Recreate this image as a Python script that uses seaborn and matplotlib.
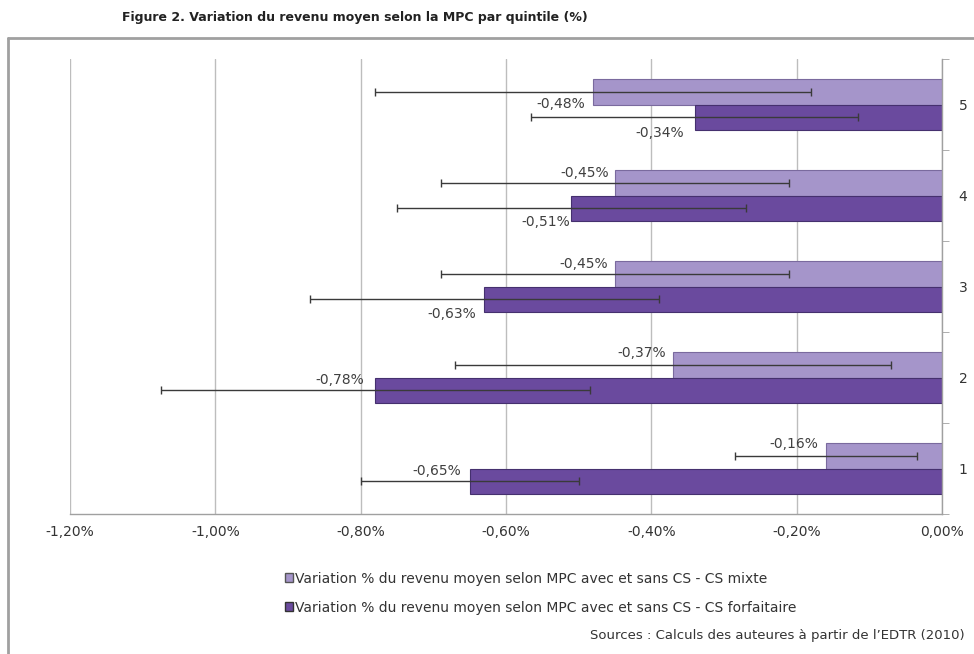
import pandas as pd
import seaborn as sns
import matplotlib.pyplot as plt
import matplotlib.patches as mpatches
from matplotlib.lines import Line2D
from matplotlib.ticker import FuncFormatter

# Values (quintiles listed top to bottom)
quintiles = ['5', '4', '3', '2', '1']
mixte = [-0.48, -0.45, -0.45, -0.37, -0.16]
forfaitaire = [-0.34, -0.51, -0.63, -0.78, -0.65]
err_mixte = [0.30, 0.24, 0.24, 0.30, 0.125]
err_forfaitaire = [0.225, 0.24, 0.24, 0.295, 0.15]

lab_mixte = 'Variation % du revenu moyen selon MPC avec et sans CS - CS mixte'
lab_forf = 'Variation % du revenu moyen selon MPC avec et sans CS - CS forfaitaire'
x_ticks = [-1.2, -1.0, -0.8, -0.6, -0.4, -0.2, 0.0]

df = pd.DataFrame({
    'quintile': quintiles * 2,
    'serie': [lab_mixte] * 5 + [lab_forf] * 5,
    'valeur': mixte + forfaitaire,
})

# label offsets in pixels (dx, dy) from bar end, style only
off_mixte = [(-32, -12), (-30, 10), (-31, 10), (-31, 12), (-32, 12)]
off_forf = [(-35, -16), (-26, -14), (-32, -15), (-35, 10), (-33, 10)]

sns.set_style('white')
plt.rcParams['font.family'] = ['DejaVu Sans']

col_mixte = '#A595CA'
col_forf = '#6A4A9E'

fig = plt.figure(figsize=(9.74, 6.54), dpi=100)
ax = fig.add_axes([70 / 974, 1 - 514 / 654, (942 - 70) / 974, (514 - 59) / 654])

sns.barplot(data=df, x='valeur', y='quintile', hue='serie', order=quintiles,
            hue_order=[lab_mixte, lab_forf], palette=[col_mixte, col_forf],
            orient='h', width=0.57, errorbar=None, legend=False, ax=ax,
            saturation=1, linewidth=0.8)

edge_cols = ['#7A6A9E', '#45306E']
for cont, ec, errs, offs in zip(ax.containers, edge_cols,
                                [err_mixte, err_forfaitaire],
                                [off_mixte, off_forf]):
    ys, xs = [], []
    for bar, off in zip(cont, offs):
        bar.set_edgecolor(ec)
        y = bar.get_y() + bar.get_height() / 2
        x = bar.get_x() + bar.get_width()
        ys.append(y)
        xs.append(x)
        ax.annotate(f'{x:.2f}%'.replace('.', ','), xy=(x, y),
                    xytext=off, textcoords='offset pixels',
                    ha='center', va='center', fontsize=10, color='#404040')
    ax.errorbar(xs, ys, xerr=errs, fmt='none', ecolor='#3a3a3a',
                elinewidth=1, capsize=3, capthick=1)

ax.set_xlim(-1.2, 0)
ax.set_ylim(4.5, -0.5)
ax.set_xticks(x_ticks)
ax.xaxis.set_major_formatter(FuncFormatter(lambda v, p: f'{v:.2f}%'.replace('.', ',')))
ax.grid(axis='x', color='#BDBDBD', linewidth=1)
ax.set_axisbelow(True)
ax.set_xlabel('')
ax.set_ylabel('')

ax.yaxis.tick_right()
ax.set_yticks([-0.5, 0.5, 1.5, 2.5, 3.5, 4.5], minor=True)
ax.tick_params(axis='y', which='major', length=0, pad=12, labelsize=10, colors='#333333')
ax.tick_params(axis='y', which='minor', length=5, direction='out', right=True, left=False, color='#A0A0A0')
ax.tick_params(axis='x', length=0, pad=8, labelsize=10, colors='#333333')

for s in ['top', 'left']:
    ax.spines[s].set_visible(False)
for s in ['right', 'bottom']:
    ax.spines[s].set_color('#A0A0A0')
    ax.spines[s].set_linewidth(1)

handles = [mpatches.Patch(facecolor=col_mixte, edgecolor='#555555', label=lab_mixte),
           mpatches.Patch(facecolor=col_forf, edgecolor='#333333', label=lab_forf)]
fig.legend(handles=handles, loc='upper left', bbox_to_anchor=(272 / 974, 1 - 559 / 654),
           frameon=False, fontsize=10, labelspacing=1.1, handlelength=0.6,
           handleheight=0.6, handletextpad=0.15, labelcolor='#333333')

fig.text(122 / 974, 1 - 17 / 654,
         'Figure 2. Variation du revenu moyen selon la MPC par quintile (%)',
         fontsize=9, fontweight='bold', ha='left', va='center', color='#222222')
fig.text(965 / 974, 1 - 636 / 654,
         'Sources : Calculs des auteures à partir de l’EDTR (2010)',
         fontsize=9.5, ha='right', va='center', color='#333333')

# outer frame of the chart area
fig.add_artist(Line2D([8 / 974, 8 / 974], [0, 1 - 38 / 654], color='#A0A0A0', lw=2))
fig.add_artist(Line2D([8 / 974, 1], [1 - 38 / 654, 1 - 38 / 654], color='#A0A0A0', lw=2))

fig.savefig('out.png', dpi=100)
